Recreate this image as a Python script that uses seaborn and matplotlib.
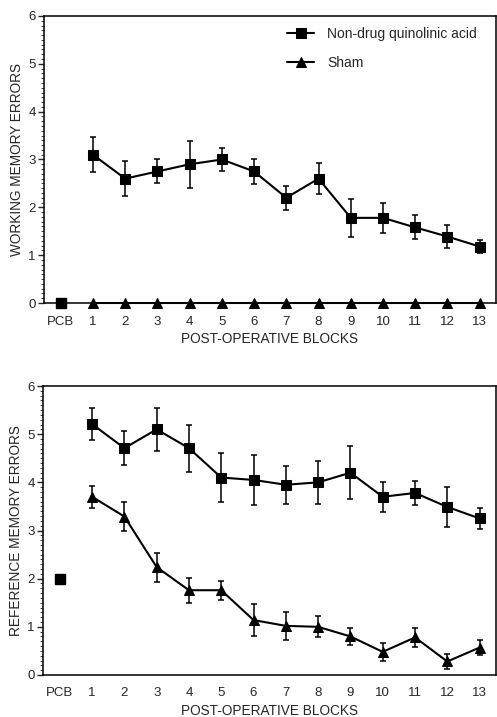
import numpy as np
import pandas as pd
import seaborn as sns
import matplotlib.pyplot as plt
from matplotlib.ticker import MultipleLocator

blocks = list(range(1, 14))
tick_labels = ['PCB'] + [str(b) for b in blocks]

# working memory errors
wm_pcb_drug = 0.0
wm_drug = [3.1, 2.6, 2.75, 2.9, 3.0, 2.75, 2.2, 2.6, 1.78, 1.78, 1.58, 1.39, 1.18]
wm_drug_err = [0.37, 0.37, 0.25, 0.49, 0.25, 0.26, 0.25, 0.33, 0.40, 0.32, 0.25, 0.24, 0.13]
wm_sham = [0.0] * 13
wm_sham_err = [0.0] * 13

# reference memory errors
rm_pcb_drug = 2.0
rm_drug = [5.21, 4.71, 5.1, 4.71, 4.1, 4.05, 3.95, 4.0, 4.2, 3.7, 3.78, 3.49, 3.25]
rm_drug_err = [0.33, 0.36, 0.45, 0.49, 0.50, 0.52, 0.39, 0.44, 0.55, 0.31, 0.25, 0.41, 0.21]
rm_sham = [3.7, 3.29, 2.24, 1.76, 1.76, 1.14, 1.02, 1.0, 0.8, 0.48, 0.78, 0.28, 0.57]
rm_sham_err = [0.23, 0.31, 0.30, 0.26, 0.20, 0.33, 0.29, 0.22, 0.17, 0.18, 0.20, 0.15, 0.15]

sns.set_style('ticks')
plt.rcParams['font.family'] = ['Liberation Sans', 'DejaVu Sans']

fig = plt.figure(figsize=(4.97, 7.17), dpi=100)
ax_top = fig.add_axes([0.0885, 0.5774, 0.909, 0.4003])
ax_bot = fig.add_axes([0.0865, 0.0586, 0.911, 0.4030])


def draw_panel(ax, pcb, drug, drug_err, sham, sham_err, ylabel, legend):
    df = pd.DataFrame({'block': blocks, 'drug': drug, 'sham': sham})
    sns.lineplot(data=df, x='block', y='drug', ax=ax, color='black', lw=1.5,
                 marker='s', markersize=7, markeredgecolor='black',
                 label='Non-drug quinolinic acid', clip_on=False, zorder=4)
    sns.lineplot(data=df, x='block', y='sham', ax=ax, color='black', lw=1.5,
                 marker='^', markersize=6.5, markeredgecolor='black',
                 label='Sham', clip_on=False, zorder=4)
    ax.errorbar(blocks, drug, yerr=drug_err, fmt='none', ecolor='black',
                elinewidth=1.1, capsize=2.5, capthick=1.1, zorder=3)
    if max(sham_err) > 0:
        ax.errorbar(blocks, sham, yerr=sham_err, fmt='none', ecolor='black',
                    elinewidth=1.1, capsize=2.5, capthick=1.1, zorder=3)
    ax.plot([0], [pcb], marker='s', markersize=7, color='black',
            ls='none', clip_on=False, zorder=5)

    ax.set_xlim(-0.52, 13.5)
    ax.set_ylim(0, 6)
    ax.set_xticks(range(0, 14))
    ax.set_xticklabels(tick_labels)
    ax.set_yticks(range(0, 7))
    ax.yaxis.set_minor_locator(MultipleLocator(0.1))
    ax.tick_params(axis='y', which='major', length=4, width=1.0, labelsize=9.5, pad=2)
    ax.tick_params(axis='y', which='minor', length=2, width=0.6)
    ax.tick_params(axis='x', length=0, labelsize=9.5, pad=9)
    ax.set_xlabel('POST-OPERATIVE BLOCKS', fontsize=9.8, labelpad=3)
    ax.set_ylabel(ylabel, fontsize=9.8, labelpad=3)
    for side in ['top', 'right', 'left', 'bottom']:
        ax.spines[side].set_visible(True)
        ax.spines[side].set_linewidth(1.1)
        ax.spines[side].set_color('black')
    if legend:
        ax.legend(loc='upper right', frameon=False, fontsize=10,
                  handlelength=2.0, handletextpad=0.9, labelspacing=1.05,
                  bbox_to_anchor=(0.97, 0.98), borderaxespad=0)
    else:
        ax.get_legend().remove()


draw_panel(ax_top, wm_pcb_drug, wm_drug, wm_drug_err, wm_sham, wm_sham_err,
           'WORKING MEMORY ERRORS', True)
draw_panel(ax_bot, rm_pcb_drug, rm_drug, rm_drug_err, rm_sham, rm_sham_err,
           'REFERENCE MEMORY ERRORS', False)

fig.savefig('out.png', dpi=100)
plt.close(fig)
